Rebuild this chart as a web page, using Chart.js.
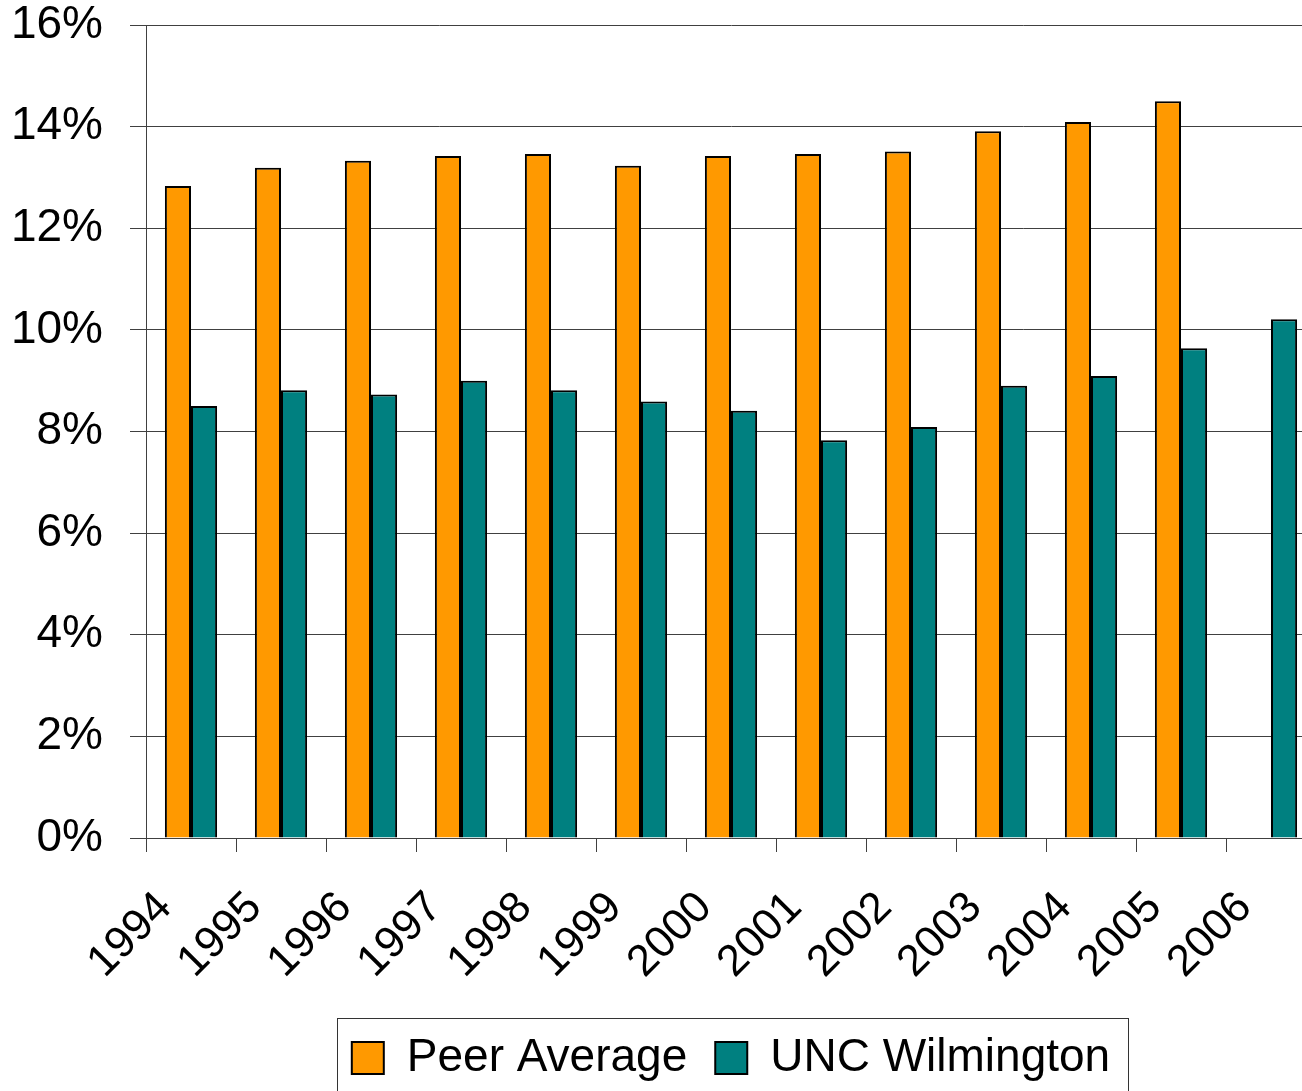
<!DOCTYPE html>
<html>
<head>
<meta charset="utf-8">
<script src="https://cdn.jsdelivr.net/npm/chart.js@4"></script>
<style>
  html, body { margin: 0; padding: 0; background: #fff; overflow: hidden; }
  #wrap { width: 1316px; height: 1101px; }
</style>
</head>
<body>
<div id="wrap"><canvas id="chart"></canvas></div>
<script>
// Years on the category axis
const YEARS = ['1994', '1995', '1996', '1997', '1998', '1999', '2000',
               '2001', '2002', '2003', '2004', '2005', '2006'];

// Percent values
const PEER_AVERAGE = [12.83, 13.19, 13.33, 13.42, 13.46, 13.23, 13.42,
                      13.46, 13.51, 13.91, 14.09, 14.50, null];
const UNC_WILMINGTON = [8.50, 8.81, 8.73, 9.00, 8.81, 8.59, 8.41,
                        7.83, 8.09, 8.90, 9.09, 9.64, 10.21];

const Y_MIN = 0, Y_MAX = 16, Y_STEP = 2;

const FONT = 'Liberation Sans, Arial, sans-serif';
const LINE = '#404040';

// Frame around the legend items
const legendBorder = {
  id: 'legendBorder',
  afterDraw(chart) {
    const boxes = chart.legend && chart.legend.legendHitBoxes;
    if (!boxes || !boxes.length) return;
    const left = Math.min(...boxes.map(b => b.left)) - 15;
    const right = Math.max(...boxes.map(b => b.left + b.width)) + 18;
    const top = Math.min(...boxes.map(b => b.top)) - 17;
    const bottom = Math.max(...boxes.map(b => b.top + b.height)) + 22;
    const ctx = chart.ctx;
    ctx.save();
    ctx.strokeStyle = '#333';
    ctx.lineWidth = 1;
    ctx.strokeRect(Math.round(left) + 0.5, Math.round(top) + 0.5,
                   Math.round(right - left), Math.round(bottom - top));
    ctx.restore();
  },
};

new Chart(document.getElementById('chart'), {
  type: 'bar',
  data: {
    labels: YEARS,
    datasets: [
      {
        label: 'Peer Average',
        data: PEER_AVERAGE,
        backgroundColor: '#FF9900',
        borderColor: '#000',
        borderWidth: 2,
        borderSkipped: 'bottom',
      },
      {
        label: 'UNC Wilmington',
        data: UNC_WILMINGTON,
        backgroundColor: '#008080',
        borderColor: '#000',
        borderWidth: 2,
        borderSkipped: 'bottom',
      },
    ],
  },
  options: {
    animation: false,
    responsive: true,
    maintainAspectRatio: false,
    layout: { padding: { top: 0, left: 0, right: 0, bottom: 10 } },
    datasets: {
      bar: { categoryPercentage: 0.58, barPercentage: 1.0 },
    },
    plugins: {
      tooltip: { enabled: false },
      legend: {
        position: 'bottom',
        fullSize: false,
        labels: {
          color: '#000',
          font: { family: FONT, size: 46 },
          boxWidth: 32,
          boxHeight: 32,
          padding: 28,
          useBorderRadius: false,
        },
      },
    },
    scales: {
      x: {
        grid: {
          offset: true,
          drawOnChartArea: false,
          drawTicks: true,
          tickLength: 14,
          color: LINE,
        },
        border: { color: LINE, width: 1 },
        ticks: {
          color: '#000',
          font: { family: FONT, size: 44 },
          maxRotation: 45,
          minRotation: 45,
          padding: 4,
          autoSkip: false,
          // trailing spaces push the rotated label down and left, under its bars
          callback: (v, i) => YEARS[i] + '   ',
        },
        afterFit(scale) { scale.height = 169; },
      },
      y: {
        min: Y_MIN,
        max: Y_MAX,
        grid: {
          color: LINE,
          tickLength: 16,
        },
        border: { color: LINE, width: 1 },
        ticks: {
          stepSize: Y_STEP,
          color: '#000',
          font: { family: FONT, size: 46, lineHeight: 1.1 },
          padding: 27,
          callback: (v) => v + '%',
        },
        afterFit(scale) {
          scale.width = 146;
          // the label gap should not also push the plot down from the top
          scale.paddingTop = 25;
          scale.paddingBottom = 0;
        },
      },
    },
  },
  plugins: [legendBorder],
});
</script>
</body>
</html>
